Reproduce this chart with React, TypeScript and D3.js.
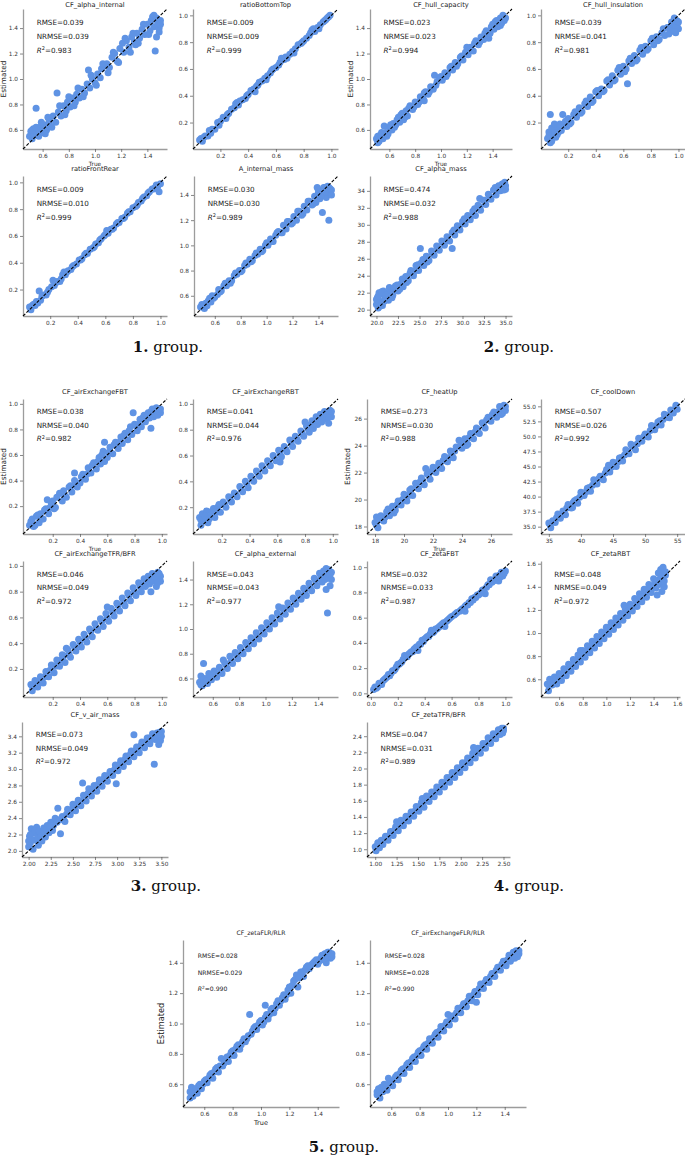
import React, { useEffect, useRef } from 'react';
import * as d3 from 'd3';

// panel titles and their scores
const titles = [
  'CF_alpha_internal', 'ratioBottomTop', 'CF_hull_capacity', 'CF_hull_insulation',
  'ratioFrontRear', 'A_internal_mass', 'CF_alpha_mass',
  'CF_airExchangeFBT', 'CF_airExchangeRBT', 'CF_heatUp', 'CF_coolDown',
  'CF_airExchangeTFR/BFR', 'CF_alpha_external', 'CF_zetaFBT', 'CF_zetaRBT',
  'CF_v_air_mass', 'CF_zetaTFR/BFR',
  'CF_zetaFLR/RLR', 'CF_airExchangeFLR/RLR',
];
const rmse = [0.039, 0.009, 0.023, 0.039, 0.009, 0.030, 0.474, 0.038, 0.041, 0.273, 0.507, 0.046, 0.043, 0.032, 0.048, 0.073, 0.047, 0.028, 0.028];
const nrmse = [0.039, 0.009, 0.023, 0.041, 0.010, 0.030, 0.032, 0.040, 0.044, 0.030, 0.026, 0.049, 0.043, 0.033, 0.049, 0.049, 0.031, 0.029, 0.028];
const r2 = [0.983, 0.999, 0.994, 0.981, 0.999, 0.989, 0.988, 0.982, 0.976, 0.988, 0.992, 0.972, 0.977, 0.987, 0.972, 0.972, 0.989, 0.990, 0.990];

// tick values
const t06 = [0.6, 0.8, 1.0, 1.2, 1.4];
const t02 = [0.2, 0.4, 0.6, 0.8, 1.0];
const t00 = [0.0, 0.2, 0.4, 0.6, 0.8, 1.0];
const t16 = [0.6, 0.8, 1.0, 1.2, 1.4, 1.6];
const massX = [20, 22.5, 25, 27.5, 30, 32.5, 35];
const massY = [20, 22, 24, 26, 28, 30, 32, 34];
const heatTicks = [18, 20, 22, 24, 26];
const coolX = [35, 40, 45, 50, 55];
const coolY = [35, 37.5, 40, 42.5, 45, 47.5, 50, 52.5, 55];
const airX = [2.0, 2.25, 2.5, 2.75, 3.0, 3.25, 3.5];
const airY = [2.0, 2.2, 2.4, 2.6, 2.8, 3.0, 3.2, 3.4];
const zetaX = [1.0, 1.25, 1.5, 1.75, 2.0, 2.25, 2.5];
const zetaY = [1.0, 1.2, 1.4, 1.6, 1.8, 2.0, 2.2, 2.4];

// [true, estimated]
const alphaInternal = [[0.50,0.55],[0.51,0.59],[0.52,0.53],[0.53,0.61],[0.54,0.57],[0.55,0.77],[0.56,0.60],[0.57,0.55],[0.58,0.62],[0.60,0.58],[0.61,0.64],[0.63,0.60],[0.65,0.67],[0.66,0.63],[0.68,0.71],[0.70,0.66],[0.71,0.89],[0.72,0.74],[0.74,0.71],[0.76,0.79],[0.78,0.75],[0.79,0.82],[0.81,0.78],[0.83,0.85],[0.85,0.82],[0.86,0.88],[0.88,0.85],[0.90,0.92],[0.92,0.89],[0.94,0.96],[0.95,1.07],[0.96,0.93],[0.98,1.00],[1.00,0.97],[1.02,1.04],[1.04,1.01],[1.05,1.08],[1.07,1.10],[1.09,1.12],[1.11,1.09],[1.13,1.17],[1.15,1.20],[1.17,1.14],[1.19,1.24],[1.21,1.28],[1.22,1.21],[1.24,1.30],[1.26,1.25],[1.28,1.33],[1.30,1.29],[1.32,1.36],[1.34,1.32],[1.36,1.39],[1.38,1.35],[1.40,1.43],[1.42,1.38],[1.43,1.46],[1.45,1.41],[1.46,1.22],[1.47,1.48],[1.48,1.44],[1.49,1.37],[1.50,1.46],[1.44,1.49],[1.31,1.27],[0.53,0.56],[0.57,0.59],[1.48,1.42],
  [0.52,0.60],[0.55,0.62],[0.59,0.66],[0.62,0.57],[0.64,0.70],[0.67,0.62],[0.73,0.79],[0.77,0.72],[0.80,0.86],[0.84,0.79],[0.87,0.93],[0.91,0.86],[0.97,1.03],[1.01,0.95],[1.06,1.12],[1.10,1.05],[1.14,1.21],[1.18,1.13],[1.23,1.32],[1.27,1.21],[1.29,1.36],[1.33,1.28],[1.37,1.43],[1.41,1.35],[1.45,1.50],[1.49,1.40],[1.47,1.33],[1.50,1.43]];
const ratioBottomTop = [[0.05,0.07],[0.06,0.08],[0.07,0.06],[0.09,0.10],[0.11,0.10],[0.12,0.14],[0.14,0.15],[0.16,0.15],[0.18,0.20],[0.20,0.21],[0.22,0.24],[0.24,0.23],[0.26,0.27],[0.28,0.30],[0.30,0.31],[0.32,0.35],[0.34,0.36],[0.36,0.37],[0.38,0.38],[0.40,0.41],[0.42,0.44],[0.44,0.45],[0.46,0.47],[0.48,0.50],[0.50,0.51],[0.52,0.53],[0.54,0.55],[0.56,0.57],[0.58,0.60],[0.60,0.61],[0.62,0.63],[0.64,0.68],[0.66,0.67],[0.68,0.68],[0.70,0.71],[0.72,0.73],[0.74,0.75],[0.76,0.78],[0.78,0.79],[0.80,0.81],[0.82,0.83],[0.84,0.85],[0.86,0.89],[0.88,0.88],[0.90,0.91],[0.92,0.93],[0.94,0.95],[0.96,0.97],[0.98,0.99],[0.99,1.00],[0.97,0.98],[0.31,0.34],[0.45,0.43],[0.87,0.90],
  [0.08,0.09],[0.13,0.12],[0.19,0.18],[0.25,0.26],[0.33,0.33],[0.39,0.40],[0.47,0.48],[0.53,0.52],[0.57,0.59],[0.63,0.65],[0.67,0.69],[0.73,0.72],[0.79,0.80],[0.85,0.87],[0.91,0.90],[0.95,0.96]];
const hullCapacity = [[0.50,0.53],[0.51,0.55],[0.52,0.51],[0.53,0.56],[0.55,0.53],[0.56,0.63],[0.57,0.58],[0.58,0.55],[0.60,0.62],[0.62,0.60],[0.63,0.65],[0.65,0.64],[0.67,0.70],[0.68,0.66],[0.70,0.73],[0.71,0.68],[0.73,0.75],[0.74,0.71],[0.76,0.79],[0.78,0.76],[0.80,0.82],[0.82,0.80],[0.84,0.86],[0.86,0.85],[0.88,0.90],[0.90,0.88],[0.92,0.94],[0.94,0.92],[0.95,1.03],[0.97,0.98],[0.99,1.01],[1.01,0.99],[1.03,1.05],[1.05,1.04],[1.07,1.09],[1.09,1.07],[1.11,1.13],[1.13,1.12],[1.15,1.17],[1.17,1.15],[1.19,1.21],[1.21,1.19],[1.23,1.25],[1.25,1.22],[1.27,1.30],[1.29,1.27],[1.31,1.33],[1.33,1.31],[1.35,1.38],[1.37,1.32],[1.39,1.41],[1.41,1.39],[1.43,1.46],[1.44,1.41],[1.46,1.48],[1.47,1.44],[1.48,1.50],[1.49,1.46],[1.50,1.48],[1.42,1.45],[0.87,0.83],[1.20,1.25],
  [0.51,0.50],[0.54,0.58],[0.59,0.57],[0.61,0.64],[0.64,0.62],[0.66,0.68],[0.69,0.72],[0.72,0.70],[0.75,0.77],[0.79,0.78],[0.83,0.82],[0.87,0.89],[0.91,0.90],[0.96,0.95],[1.00,1.02],[1.04,1.02],[1.08,1.10],[1.12,1.10],[1.16,1.18],[1.22,1.23],[1.26,1.28],[1.30,1.29],[1.34,1.36],[1.38,1.36],[1.40,1.43],[1.45,1.44],[1.48,1.46],[1.46,1.42]];
const hullInsulation = [[0.05,0.08],[0.06,0.13],[0.07,0.26],[0.07,0.05],[0.08,0.16],[0.09,0.11],[0.10,0.15],[0.11,0.09],[0.12,0.17],[0.13,0.13],[0.15,0.14],[0.16,0.26],[0.17,0.19],[0.19,0.17],[0.20,0.23],[0.22,0.20],[0.24,0.26],[0.26,0.24],[0.28,0.31],[0.30,0.28],[0.32,0.34],[0.34,0.32],[0.36,0.39],[0.38,0.36],[0.40,0.43],[0.42,0.40],[0.44,0.45],[0.46,0.44],[0.48,0.51],[0.50,0.48],[0.52,0.55],[0.54,0.52],[0.56,0.59],[0.58,0.56],[0.60,0.62],[0.62,0.60],[0.63,0.49],[0.64,0.66],[0.66,0.64],[0.68,0.70],[0.70,0.67],[0.72,0.74],[0.74,0.71],[0.76,0.77],[0.78,0.75],[0.80,0.81],[0.82,0.78],[0.84,0.84],[0.86,0.82],[0.88,0.87],[0.90,0.85],[0.92,0.91],[0.94,0.88],[0.95,0.95],[0.96,0.90],[0.97,0.98],[0.98,0.87],[0.99,0.93],[1.00,0.90],[0.99,0.96],
  [0.06,0.10],[0.08,0.06],[0.10,0.19],[0.12,0.11],[0.14,0.19],[0.18,0.21],[0.21,0.19],[0.25,0.28],[0.29,0.27],[0.33,0.36],[0.37,0.35],[0.41,0.44],[0.45,0.43],[0.49,0.52],[0.53,0.51],[0.57,0.61],[0.61,0.58],[0.65,0.68],[0.69,0.66],[0.73,0.76],[0.77,0.74],[0.81,0.83],[0.85,0.81],[0.89,0.90],[0.93,0.86],[0.96,0.93],[0.98,0.91],[1.00,0.95],[0.97,0.88]];
const ratioFrontRear = [[0.05,0.07],[0.06,0.05],[0.07,0.08],[0.09,0.08],[0.10,0.11],[0.12,0.19],[0.13,0.12],[0.15,0.16],[0.17,0.16],[0.19,0.20],[0.21,0.22],[0.22,0.27],[0.23,0.23],[0.25,0.26],[0.27,0.26],[0.29,0.31],[0.30,0.33],[0.31,0.31],[0.33,0.34],[0.35,0.35],[0.37,0.38],[0.39,0.39],[0.41,0.42],[0.43,0.43],[0.45,0.46],[0.47,0.47],[0.49,0.50],[0.51,0.51],[0.53,0.54],[0.55,0.55],[0.57,0.58],[0.59,0.60],[0.61,0.64],[0.62,0.62],[0.64,0.65],[0.66,0.66],[0.68,0.69],[0.70,0.70],[0.72,0.73],[0.74,0.74],[0.76,0.77],[0.78,0.78],[0.80,0.81],[0.82,0.82],[0.84,0.85],[0.86,0.86],[0.88,0.89],[0.90,0.90],[0.92,0.93],[0.94,0.95],[0.96,0.96],[0.97,0.98],[0.99,0.93],[1.00,0.99],[0.98,0.97],
  [0.08,0.09],[0.11,0.10],[0.14,0.15],[0.18,0.18],[0.24,0.25],[0.28,0.28],[0.32,0.33],[0.36,0.37],[0.42,0.42],[0.46,0.47],[0.52,0.52],[0.56,0.57],[0.60,0.61],[0.65,0.65],[0.69,0.70],[0.73,0.73],[0.77,0.78],[0.83,0.83],[0.87,0.88],[0.91,0.92],[0.95,0.95]];
const aInternalMass = [[0.49,0.51],[0.50,0.53],[0.52,0.50],[0.53,0.54],[0.55,0.56],[0.57,0.55],[0.58,0.60],[0.60,0.59],[0.62,0.61],[0.63,0.65],[0.65,0.64],[0.67,0.68],[0.69,0.68],[0.71,0.72],[0.73,0.72],[0.75,0.76],[0.77,0.77],[0.79,0.80],[0.81,0.80],[0.83,0.84],[0.85,0.85],[0.87,0.89],[0.89,0.88],[0.91,0.92],[0.93,0.93],[0.95,0.97],[0.97,0.96],[0.99,1.00],[1.01,1.00],[1.03,1.05],[1.05,1.03],[1.07,1.08],[1.09,1.11],[1.11,1.10],[1.13,1.16],[1.15,1.13],[1.17,1.19],[1.19,1.17],[1.21,1.23],[1.23,1.20],[1.25,1.27],[1.27,1.24],[1.29,1.31],[1.31,1.28],[1.33,1.35],[1.35,1.32],[1.37,1.39],[1.38,1.34],[1.40,1.42],[1.41,1.37],[1.43,1.26],[1.43,1.44],[1.44,1.40],[1.45,1.46],[1.46,1.38],[1.47,1.43],[1.48,1.20],[1.48,1.46],[1.49,1.41],[1.50,1.44],[1.39,1.46],
  [0.51,0.52],[0.54,0.52],[0.56,0.58],[0.59,0.58],[0.64,0.63],[0.68,0.70],[0.72,0.70],[0.76,0.78],[0.80,0.79],[0.84,0.86],[0.88,0.87],[0.92,0.94],[0.96,0.95],[1.00,1.02],[1.04,1.03],[1.08,1.10],[1.12,1.10],[1.16,1.19],[1.20,1.18],[1.24,1.27],[1.28,1.25],[1.32,1.35],[1.36,1.33],[1.40,1.44],[1.42,1.40],[1.44,1.46],[1.46,1.42],[1.47,1.47],[1.49,1.45],[1.50,1.40]];
const alphaMass = [[20.0,20.6],[20.1,21.4],[20.2,20.2],[20.3,22.0],[20.4,21.0],[20.5,21.8],[20.7,20.5],[20.8,22.2],[21.0,21.3],[21.2,22.0],[21.4,21.1],[21.6,22.3],[21.9,21.7],[22.2,22.8],[22.5,22.2],[22.8,23.0],[23.1,22.7],[23.4,23.9],[23.7,23.4],[24.0,24.6],[24.3,24.0],[24.6,25.2],[24.9,24.6],[25.1,27.2],[25.2,25.5],[25.5,25.2],[25.8,26.3],[26.1,25.8],[26.4,26.9],[26.7,26.4],[27.0,27.5],[27.3,27.0],[27.6,28.1],[27.9,27.6],[28.2,28.6],[28.5,28.1],[28.8,27.2],[28.8,29.1],[29.1,28.8],[29.4,29.9],[29.7,29.4],[30.0,30.4],[30.3,30.1],[30.6,31.1],[30.9,30.6],[31.2,31.6],[31.5,31.1],[31.8,32.3],[32.1,31.7],[32.4,32.9],[32.7,32.4],[33.0,33.6],[33.3,33.0],[33.6,34.1],[33.9,33.5],[34.2,34.6],[34.4,34.0],[34.6,34.8],[34.8,34.1],[35.0,34.6],[34.9,35.0],[32.0,33.1],
  [20.0,21.2],[20.2,21.6],[20.4,20.4],[20.6,22.1],[20.9,21.0],[21.1,21.7],[21.5,22.6],[21.8,21.4],[22.0,22.5],[22.4,22.9],[22.7,22.4],[23.0,23.6],[23.5,23.2],[23.9,24.3],[24.4,24.5],[24.8,25.3],[25.4,25.9],[25.9,25.6],[26.5,26.6],[27.1,27.3],[27.7,27.9],[28.3,28.3],[29.0,29.4],[29.6,29.8],[30.2,30.7],[30.8,31.0],[31.4,31.9],[32.0,32.1],[32.6,32.9],[33.2,33.3],[33.8,34.4],[34.3,34.3],[34.7,34.6],[35.0,34.2]];
const airExchangeFBT = [[0.03,0.05],[0.05,0.10],[0.06,0.04],[0.08,0.12],[0.10,0.07],[0.11,0.14],[0.13,0.10],[0.15,0.18],[0.17,0.14],[0.19,0.22],[0.21,0.18],[0.23,0.27],[0.25,0.30],[0.27,0.24],[0.28,0.32],[0.30,0.27],[0.32,0.35],[0.34,0.31],[0.36,0.40],[0.38,0.35],[0.40,0.38],[0.42,0.45],[0.44,0.41],[0.46,0.50],[0.48,0.46],[0.50,0.54],[0.52,0.49],[0.54,0.58],[0.55,0.53],[0.57,0.63],[0.58,0.55],[0.60,0.58],[0.62,0.66],[0.64,0.61],[0.66,0.70],[0.68,0.65],[0.70,0.74],[0.71,0.69],[0.73,0.77],[0.75,0.72],[0.77,0.82],[0.78,0.76],[0.80,0.84],[0.82,0.79],[0.84,0.88],[0.85,0.82],[0.87,0.91],[0.88,0.86],[0.90,0.93],[0.91,0.89],[0.92,0.81],[0.93,0.96],[0.94,0.90],[0.95,0.94],[0.96,0.97],[0.97,0.91],[0.98,0.95],[0.99,0.93],[0.79,0.93],[0.58,0.70],[0.36,0.46],[0.16,0.25],
  [0.04,0.08],[0.07,0.05],[0.09,0.13],[0.12,0.10],[0.14,0.17],[0.18,0.19],[0.20,0.24],[0.22,0.19],[0.26,0.30],[0.29,0.28],[0.33,0.36],[0.37,0.36],[0.41,0.43],[0.45,0.45],[0.49,0.52],[0.53,0.55],[0.56,0.60],[0.61,0.62],[0.65,0.68],[0.69,0.70],[0.72,0.75],[0.76,0.79],[0.81,0.83],[0.83,0.84],[0.86,0.89],[0.89,0.90],[0.92,0.94],[0.95,0.96],[0.97,0.94],[0.99,0.96]];
const airExchangeRBT = [[0.04,0.12],[0.05,0.06],[0.06,0.15],[0.07,0.10],[0.09,0.17],[0.10,0.08],[0.12,0.13],[0.14,0.19],[0.15,0.12],[0.17,0.20],[0.19,0.16],[0.21,0.24],[0.23,0.20],[0.25,0.28],[0.27,0.24],[0.29,0.31],[0.31,0.28],[0.33,0.36],[0.35,0.32],[0.37,0.40],[0.39,0.35],[0.41,0.44],[0.43,0.40],[0.45,0.48],[0.47,0.44],[0.49,0.52],[0.51,0.48],[0.53,0.56],[0.55,0.52],[0.57,0.60],[0.59,0.56],[0.61,0.64],[0.63,0.59],[0.65,0.67],[0.67,0.63],[0.69,0.72],[0.71,0.67],[0.73,0.75],[0.75,0.71],[0.77,0.79],[0.79,0.75],[0.81,0.83],[0.83,0.78],[0.85,0.87],[0.86,0.81],[0.88,0.90],[0.89,0.84],[0.91,0.92],[0.92,0.86],[0.94,0.94],[0.95,0.88],[0.96,0.93],[0.97,0.85],[0.98,0.95],[0.99,0.90],[0.62,0.55],[0.80,0.86],
  [0.05,0.10],[0.08,0.13],[0.11,0.11],[0.13,0.17],[0.16,0.16],[0.18,0.22],[0.22,0.22],[0.26,0.26],[0.30,0.30],[0.34,0.34],[0.38,0.38],[0.42,0.42],[0.46,0.46],[0.50,0.50],[0.54,0.54],[0.58,0.58],[0.62,0.62],[0.66,0.65],[0.70,0.70],[0.74,0.73],[0.78,0.77],[0.82,0.81],[0.84,0.84],[0.87,0.86],[0.90,0.88],[0.93,0.90],[0.95,0.92],[0.97,0.90],[0.99,0.94]];
const heatUp = [[18.0,18.3],[18.1,18.7],[18.2,17.9],[18.4,18.8],[18.6,18.4],[18.8,19.1],[19.0,18.8],[19.2,19.5],[19.4,19.2],[19.6,19.9],[19.8,19.6],[20.0,20.4],[20.2,19.9],[20.4,20.7],[20.6,20.3],[20.8,21.2],[21.0,20.8],[21.2,21.6],[21.4,21.1],[21.6,21.9],[21.8,21.5],[22.0,22.4],[22.2,22.0],[22.4,22.7],[22.6,22.3],[22.8,23.2],[23.0,22.8],[23.2,23.6],[23.4,23.1],[23.6,23.9],[23.8,24.4],[24.0,23.8],[24.2,24.5],[24.4,24.1],[24.6,24.9],[24.8,24.5],[25.0,25.3],[25.2,24.9],[25.4,25.7],[25.6,25.3],[25.8,26.1],[26.0,25.8],[26.2,26.5],[26.4,26.1],[26.6,26.9],[26.8,26.4],[26.9,27.0],[27.0,26.6],[26.7,26.3],[21.5,22.3],[24.3,24.0],[19.3,19.0],
  [18.1,18.1],[18.3,18.5],[18.5,18.7],[18.7,18.7],[18.9,19.3],[19.1,19.1],[19.5,19.6],[19.9,20.0],[20.3,20.3],[20.5,20.8],[20.9,20.9],[21.1,21.3],[21.3,21.4],[21.7,21.8],[21.9,22.1],[22.3,22.4],[22.5,22.5],[22.7,22.9],[23.1,23.1],[23.3,23.4],[23.5,23.6],[23.9,24.0],[24.1,24.3],[24.5,24.6],[24.9,25.0],[25.1,25.2],[25.5,25.5],[25.7,25.9],[26.1,26.3],[26.3,26.4],[26.5,26.5],[26.8,26.8],[27.0,26.9]];
const coolDown = [[35.0,35.6],[35.3,34.8],[35.6,36.0],[36.0,35.7],[36.4,37.1],[36.8,36.4],[37.2,37.6],[37.6,37.0],[38.0,38.7],[38.5,38.1],[39.0,39.3],[39.5,38.9],[40.0,40.7],[40.5,40.2],[41.0,41.4],[41.5,40.9],[42.0,42.8],[42.5,42.1],[43.0,43.4],[43.5,42.8],[44.0,44.5],[44.5,44.1],[45.0,45.7],[45.5,45.0],[46.0,46.4],[46.5,45.9],[47.0,47.8],[47.5,47.1],[48.0,48.3],[48.5,47.8],[49.0,49.7],[49.5,49.2],[50.0,50.4],[50.5,49.9],[51.0,51.8],[51.5,51.1],[52.0,52.4],[52.5,51.9],[53.0,53.7],[53.5,53.2],[54.0,54.4],[54.4,53.9],[54.8,55.2],[55.0,54.5],[53.8,53.1],[44.3,45.2],[38.7,38.2],[47.8,48.7],
  [35.2,35.3],[35.8,35.8],[36.2,36.5],[36.6,36.8],[37.4,37.4],[37.8,38.1],[38.3,38.3],[38.8,39.0],[39.3,39.5],[39.8,39.9],[40.3,40.5],[40.8,40.8],[41.3,41.5],[41.8,41.9],[42.3,42.4],[42.8,43.0],[43.3,43.4],[43.8,43.9],[44.8,44.9],[45.3,45.5],[45.8,45.8],[46.3,46.5],[46.8,46.9],[47.3,47.4],[48.3,48.4],[48.8,48.8],[49.3,49.5],[49.8,50.0],[50.3,50.3],[50.8,51.0],[51.3,51.4],[51.8,51.8],[52.3,52.6],[52.8,52.8],[53.3,53.5],[54.2,54.3],[54.7,54.6]];
const airExchangeTfr = [[0.04,0.08],[0.05,0.03],[0.07,0.11],[0.09,0.06],[0.11,0.14],[0.13,0.09],[0.15,0.18],[0.17,0.14],[0.19,0.23],[0.21,0.17],[0.23,0.27],[0.25,0.22],[0.27,0.31],[0.29,0.25],[0.31,0.35],[0.33,0.29],[0.35,0.39],[0.37,0.34],[0.39,0.43],[0.41,0.37],[0.43,0.47],[0.45,0.41],[0.47,0.51],[0.49,0.45],[0.51,0.55],[0.53,0.50],[0.55,0.59],[0.57,0.53],[0.59,0.63],[0.61,0.57],[0.63,0.67],[0.65,0.61],[0.67,0.71],[0.69,0.65],[0.71,0.75],[0.73,0.69],[0.75,0.79],[0.77,0.73],[0.79,0.83],[0.81,0.77],[0.83,0.87],[0.85,0.80],[0.87,0.90],[0.88,0.84],[0.90,0.92],[0.91,0.86],[0.93,0.94],[0.94,0.88],[0.95,0.93],[0.96,0.84],[0.97,0.95],[0.98,0.89],[0.99,0.92],[0.92,0.80],[0.60,0.68],[0.30,0.36],
  [0.05,0.07],[0.08,0.10],[0.10,0.09],[0.14,0.14],[0.18,0.19],[0.22,0.22],[0.26,0.27],[0.28,0.30],[0.32,0.32],[0.36,0.37],[0.40,0.41],[0.44,0.44],[0.48,0.49],[0.52,0.52],[0.56,0.57],[0.60,0.60],[0.64,0.64],[0.68,0.69],[0.72,0.72],[0.76,0.77],[0.80,0.80],[0.84,0.84],[0.86,0.85],[0.89,0.88],[0.92,0.90],[0.94,0.92],[0.96,0.90],[0.98,0.94],[0.99,0.88],[0.97,0.87]];
const alphaExternal = [[0.50,0.57],[0.51,0.62],[0.52,0.54],[0.53,0.72],[0.54,0.60],[0.56,0.56],[0.57,0.64],[0.59,0.59],[0.61,0.66],[0.63,0.61],[0.65,0.69],[0.67,0.64],[0.69,0.73],[0.71,0.68],[0.73,0.78],[0.75,0.72],[0.77,0.81],[0.79,0.76],[0.81,0.85],[0.83,0.80],[0.85,0.89],[0.87,0.84],[0.89,0.93],[0.91,0.88],[0.93,0.97],[0.95,0.92],[0.97,1.01],[0.99,0.96],[1.01,1.05],[1.03,1.00],[1.05,1.09],[1.07,1.04],[1.09,1.13],[1.11,1.08],[1.13,1.17],[1.15,1.12],[1.17,1.21],[1.19,1.16],[1.21,1.25],[1.23,1.20],[1.25,1.29],[1.27,1.24],[1.29,1.33],[1.31,1.27],[1.33,1.37],[1.35,1.31],[1.37,1.41],[1.39,1.35],[1.41,1.45],[1.43,1.38],[1.44,1.47],[1.45,1.40],[1.46,1.49],[1.47,1.13],[1.48,1.43],[1.49,1.35],[1.50,1.46],[1.46,1.32],[0.68,0.75],[1.10,1.18],
  [0.51,0.55],[0.53,0.59],[0.55,0.58],[0.58,0.62],[0.62,0.64],[0.66,0.66],[0.70,0.71],[0.74,0.75],[0.78,0.79],[0.82,0.82],[0.86,0.87],[0.90,0.91],[0.94,0.94],[0.98,0.99],[1.02,1.03],[1.06,1.06],[1.10,1.11],[1.14,1.15],[1.18,1.18],[1.22,1.23],[1.26,1.26],[1.30,1.31],[1.34,1.34],[1.38,1.39],[1.42,1.42],[1.45,1.45],[1.47,1.41],[1.48,1.48],[1.50,1.40],[1.49,1.44]];
const zetaFBT = [[0.02,0.03],[0.03,0.05],[0.05,0.05],[0.06,0.08],[0.08,0.07],[0.10,0.11],[0.12,0.13],[0.14,0.14],[0.16,0.18],[0.18,0.19],[0.20,0.23],[0.22,0.24],[0.24,0.27],[0.26,0.29],[0.28,0.31],[0.30,0.33],[0.32,0.35],[0.34,0.37],[0.36,0.39],[0.38,0.42],[0.40,0.43],[0.42,0.45],[0.44,0.47],[0.46,0.48],[0.48,0.51],[0.50,0.52],[0.52,0.54],[0.54,0.56],[0.56,0.57],[0.58,0.59],[0.60,0.61],[0.62,0.62],[0.64,0.64],[0.66,0.65],[0.68,0.67],[0.70,0.69],[0.72,0.70],[0.74,0.72],[0.76,0.74],[0.78,0.76],[0.80,0.78],[0.82,0.80],[0.84,0.82],[0.86,0.84],[0.88,0.86],[0.90,0.88],[0.92,0.90],[0.94,0.92],[0.96,0.94],[0.97,0.96],[0.98,0.93],[1.00,0.97],[0.95,0.89],[0.85,0.79],[0.70,0.65],[0.45,0.50],[0.25,0.30],[0.15,0.16],[0.35,0.34],[0.55,0.53],[0.75,0.75],[0.89,0.90],
  [0.04,0.04],[0.07,0.07],[0.09,0.10],[0.11,0.12],[0.13,0.15],[0.17,0.18],[0.19,0.21],[0.21,0.23],[0.23,0.25],[0.27,0.29],[0.29,0.32],[0.31,0.33],[0.33,0.36],[0.37,0.39],[0.39,0.41],[0.41,0.44],[0.43,0.45],[0.47,0.49],[0.49,0.51],[0.51,0.53],[0.53,0.55],[0.57,0.58],[0.59,0.60],[0.63,0.63],[0.67,0.66],[0.71,0.70],[0.73,0.72],[0.77,0.76],[0.79,0.78],[0.81,0.79],[0.83,0.82],[0.87,0.86],[0.91,0.89],[0.93,0.93],[0.96,0.92],[0.99,0.95]];
const zetaRBT = [[0.50,0.56],[0.51,0.50],[0.52,0.60],[0.54,0.55],[0.56,0.62],[0.58,0.56],[0.60,0.65],[0.62,0.59],[0.64,0.69],[0.66,0.63],[0.68,0.73],[0.70,0.67],[0.72,0.77],[0.74,0.71],[0.76,0.81],[0.78,0.75],[0.80,0.85],[0.82,0.79],[0.84,0.89],[0.86,0.83],[0.88,0.93],[0.90,0.87],[0.92,0.97],[0.94,0.91],[0.96,1.01],[0.98,0.95],[1.00,1.05],[1.02,0.99],[1.04,1.09],[1.06,1.03],[1.08,1.13],[1.10,1.07],[1.12,1.17],[1.14,1.11],[1.16,1.21],[1.18,1.15],[1.20,1.25],[1.22,1.19],[1.24,1.30],[1.26,1.23],[1.28,1.34],[1.30,1.27],[1.32,1.38],[1.34,1.31],[1.36,1.42],[1.38,1.35],[1.40,1.47],[1.42,1.39],[1.44,1.52],[1.45,1.42],[1.46,1.55],[1.47,1.45],[1.48,1.57],[1.49,1.40],[1.50,1.50],[1.43,1.33],[1.47,1.36],[0.78,0.85],[1.15,1.24],
  [0.51,0.55],[0.53,0.57],[0.55,0.58],[0.57,0.60],[0.61,0.62],[0.65,0.66],[0.69,0.70],[0.73,0.74],[0.77,0.78],[0.81,0.82],[0.85,0.86],[0.89,0.90],[0.93,0.94],[0.97,0.98],[1.01,1.02],[1.05,1.06],[1.09,1.10],[1.13,1.14],[1.17,1.18],[1.21,1.22],[1.25,1.27],[1.29,1.31],[1.33,1.35],[1.37,1.39],[1.41,1.43],[1.44,1.46],[1.46,1.48],[1.48,1.51],[1.49,1.45],[1.50,1.53]];
const vAirMass = [[2.00,2.05],[2.01,2.18],[2.02,2.10],[2.03,2.27],[2.05,2.02],[2.06,2.22],[2.08,2.13],[2.09,2.29],[2.11,2.07],[2.13,2.20],[2.15,2.12],[2.17,2.28],[2.19,2.17],[2.21,2.31],[2.23,2.22],[2.25,2.35],[2.27,2.25],[2.30,2.40],[2.33,2.52],[2.36,2.21],[2.38,2.42],[2.41,2.36],[2.44,2.51],[2.47,2.44],[2.50,2.57],[2.53,2.49],[2.56,2.62],[2.61,2.83],[2.59,2.55],[2.62,2.68],[2.65,2.61],[2.68,2.76],[2.71,2.67],[2.74,2.80],[2.77,2.73],[2.80,2.87],[2.83,2.79],[2.86,2.92],[2.89,2.85],[2.92,2.97],[2.95,2.92],[2.99,2.82],[2.98,3.05],[3.01,2.98],[3.04,3.10],[3.07,3.03],[3.10,3.16],[3.13,3.09],[3.16,3.22],[3.19,3.42],[3.19,3.15],[3.22,3.27],[3.25,3.20],[3.28,3.33],[3.31,3.26],[3.34,3.38],[3.37,3.31],[3.40,3.43],[3.42,3.06],[3.43,3.36],[3.45,3.44],[3.47,3.30],[3.48,3.41],[3.50,3.46],[3.49,3.35],
  [2.00,2.12],[2.02,2.20],[2.04,2.14],[2.07,2.25],[2.10,2.16],[2.12,2.24],[2.14,2.18],[2.18,2.23],[2.20,2.26],[2.24,2.29],[2.28,2.31],[2.32,2.35],[2.35,2.38],[2.39,2.40],[2.43,2.45],[2.46,2.49],[2.49,2.51],[2.52,2.55],[2.55,2.57],[2.58,2.61],[2.63,2.64],[2.67,2.70],[2.70,2.72],[2.73,2.76],[2.76,2.79],[2.79,2.82],[2.82,2.84],[2.85,2.88],[2.88,2.91],[2.91,2.93],[2.94,2.97],[2.97,2.99],[3.00,3.03],[3.03,3.06],[3.06,3.08],[3.09,3.12],[3.12,3.15],[3.15,3.18],[3.18,3.20],[3.21,3.23],[3.24,3.26],[3.27,3.29],[3.30,3.31],[3.33,3.34],[3.36,3.38],[3.39,3.37],[3.41,3.40],[3.44,3.40],[3.46,3.42],[3.48,3.45],[3.50,3.40]];
const zetaTfr = [[1.00,1.03],[1.01,0.98],[1.03,1.08],[1.05,1.02],[1.07,1.11],[1.09,1.06],[1.12,1.16],[1.15,1.11],[1.18,1.22],[1.21,1.17],[1.24,1.28],[1.27,1.23],[1.30,1.36],[1.33,1.29],[1.36,1.41],[1.39,1.35],[1.42,1.46],[1.45,1.41],[1.48,1.53],[1.51,1.47],[1.54,1.58],[1.57,1.52],[1.60,1.66],[1.63,1.59],[1.66,1.71],[1.69,1.65],[1.72,1.77],[1.75,1.71],[1.78,1.83],[1.81,1.77],[1.84,1.89],[1.87,1.83],[1.90,1.95],[1.93,1.89],[1.96,2.01],[1.99,1.95],[2.02,2.07],[2.05,2.01],[2.08,2.13],[2.11,2.07],[2.14,2.19],[2.17,2.13],[2.20,2.25],[2.23,2.19],[2.26,2.31],[2.29,2.25],[2.32,2.38],[2.35,2.31],[2.38,2.43],[2.41,2.37],[2.44,2.48],[2.46,2.42],[2.48,2.50],[2.49,2.44],[2.50,2.47],[1.55,1.63],[2.15,2.26],[1.25,1.34],
  [1.02,1.04],[1.04,1.05],[1.06,1.08],[1.08,1.09],[1.11,1.12],[1.14,1.15],[1.17,1.18],[1.20,1.21],[1.23,1.24],[1.26,1.27],[1.29,1.31],[1.32,1.33],[1.35,1.36],[1.38,1.39],[1.41,1.42],[1.44,1.45],[1.47,1.48],[1.50,1.51],[1.53,1.54],[1.56,1.57],[1.59,1.61],[1.62,1.63],[1.65,1.66],[1.68,1.69],[1.71,1.72],[1.74,1.75],[1.77,1.78],[1.80,1.81],[1.83,1.84],[1.86,1.87],[1.89,1.90],[1.92,1.93],[1.95,1.96],[1.98,1.99],[2.01,2.02],[2.04,2.05],[2.07,2.08],[2.10,2.11],[2.13,2.14],[2.16,2.17],[2.19,2.20],[2.22,2.23],[2.25,2.26],[2.28,2.29],[2.31,2.32],[2.34,2.35],[2.37,2.38],[2.40,2.41],[2.43,2.44],[2.45,2.46],[2.47,2.45],[2.50,2.50]];
const zetaFlr = [[0.50,0.55],[0.51,0.58],[0.52,0.52],[0.53,0.56],[0.55,0.54],[0.56,0.59],[0.58,0.57],[0.60,0.62],[0.62,0.61],[0.64,0.66],[0.66,0.64],[0.68,0.70],[0.70,0.68],[0.72,0.77],[0.73,0.72],[0.75,0.76],[0.77,0.75],[0.79,0.81],[0.81,0.79],[0.83,0.85],[0.85,0.83],[0.87,0.88],[0.89,0.88],[0.91,0.92],[0.92,1.06],[0.93,0.93],[0.95,0.97],[0.97,0.96],[0.99,1.01],[1.01,0.99],[1.03,1.12],[1.03,1.04],[1.05,1.03],[1.07,1.09],[1.09,1.07],[1.11,1.13],[1.13,1.12],[1.15,1.17],[1.17,1.16],[1.19,1.22],[1.21,1.20],[1.23,1.28],[1.25,1.32],[1.26,1.24],[1.28,1.34],[1.30,1.31],[1.32,1.37],[1.34,1.36],[1.36,1.39],[1.38,1.41],[1.40,1.39],[1.42,1.43],[1.44,1.42],[1.45,1.46],[1.47,1.44],[1.48,1.47],[1.49,1.43],[1.50,1.46],[1.46,1.40],
  [0.50,0.51],[0.52,0.57],[0.54,0.57],[0.57,0.60],[0.59,0.60],[0.61,0.63],[0.63,0.64],[0.65,0.67],[0.67,0.68],[0.69,0.71],[0.71,0.72],[0.74,0.74],[0.76,0.78],[0.78,0.79],[0.80,0.82],[0.82,0.83],[0.84,0.86],[0.86,0.86],[0.88,0.90],[0.90,0.90],[0.94,0.95],[0.96,0.98],[0.98,0.99],[1.00,1.02],[1.02,1.01],[1.04,1.06],[1.06,1.06],[1.08,1.10],[1.10,1.10],[1.12,1.15],[1.14,1.15],[1.16,1.19],[1.18,1.19],[1.20,1.24],[1.22,1.25],[1.24,1.29],[1.27,1.30],[1.29,1.34],[1.31,1.35],[1.33,1.38],[1.35,1.38],[1.37,1.40],[1.39,1.42],[1.41,1.41],[1.43,1.45],[1.45,1.43],[1.47,1.47],[1.49,1.46],[1.50,1.44]];
const airExchangeFlr = [[0.50,0.53],[0.51,0.57],[0.52,0.51],[0.54,0.55],[0.55,0.60],[0.57,0.56],[0.59,0.61],[0.61,0.59],[0.63,0.65],[0.65,0.63],[0.67,0.69],[0.69,0.67],[0.71,0.73],[0.73,0.71],[0.75,0.77],[0.77,0.75],[0.79,0.81],[0.81,0.79],[0.83,0.85],[0.85,0.83],[0.87,0.90],[0.89,0.87],[0.91,0.93],[0.93,0.91],[0.95,0.98],[0.97,0.95],[0.99,1.01],[1.01,0.99],[1.03,1.05],[1.05,1.03],[1.07,1.10],[1.09,1.07],[1.11,1.13],[1.13,1.11],[1.15,1.18],[1.17,1.15],[1.19,1.21],[1.21,1.19],[1.23,1.26],[1.25,1.23],[1.27,1.29],[1.29,1.27],[1.31,1.33],[1.33,1.31],[1.35,1.37],[1.37,1.35],[1.39,1.41],[1.41,1.38],[1.43,1.45],[1.44,1.41],[1.46,1.47],[1.47,1.43],[1.48,1.48],[1.49,1.44],[1.50,1.46],[0.58,0.64],[1.00,1.06],[1.20,1.14],
  [0.50,0.55],[0.52,0.55],[0.53,0.58],[0.56,0.58],[0.58,0.60],[0.60,0.62],[0.62,0.63],[0.64,0.66],[0.66,0.67],[0.68,0.70],[0.70,0.71],[0.72,0.74],[0.74,0.75],[0.76,0.78],[0.78,0.79],[0.80,0.82],[0.82,0.83],[0.84,0.86],[0.86,0.87],[0.88,0.89],[0.90,0.91],[0.92,0.94],[0.94,0.95],[0.96,0.97],[0.98,0.99],[1.00,1.01],[1.02,1.03],[1.04,1.05],[1.06,1.07],[1.08,1.09],[1.10,1.11],[1.12,1.13],[1.14,1.15],[1.16,1.17],[1.18,1.19],[1.20,1.21],[1.22,1.23],[1.24,1.25],[1.26,1.27],[1.28,1.29],[1.30,1.31],[1.32,1.33],[1.34,1.35],[1.36,1.37],[1.38,1.39],[1.40,1.41],[1.42,1.42],[1.44,1.45],[1.46,1.45],[1.48,1.46],[1.50,1.48]];

const groupCaptions = ['1.', '2.', '3.', '4.', '5.'];

// layout of each panel: x, y, w, h (pixels) and which axis labels it carries
const panels = [
  { data: alphaInternal, xt: t06, yt: t06, xf: '.1f', yf: '.1f', x: 23, y: 9, w: 144, h: 140, top: true, lab: true },
  { data: ratioBottomTop, xt: t02, yt: t02, xf: '.1f', yf: '.1f', x: 193, y: 9, w: 145, h: 140, top: true },
  { data: hullCapacity, xt: t06, yt: t06, xf: '.1f', yf: '.1f', x: 370, y: 9, w: 142, h: 140, top: true, lab: true },
  { data: hullInsulation, xt: t02, yt: t02, xf: '.1f', yf: '.1f', x: 541, y: 9, w: 144, h: 140, top: true },
  { data: ratioFrontRear, xt: t02, yt: t02, xf: '.1f', yf: '.1f', x: 23, y: 176, w: 144, h: 140 },
  { data: aInternalMass, xt: t06, yt: t06, xf: '.1f', yf: '.1f', x: 194, y: 176, w: 144, h: 140 },
  { data: alphaMass, xt: massX, yt: massY, xf: '.1f', yf: 'd', x: 370, y: 176, w: 142, h: 140 },
  { data: airExchangeFBT, xt: t02, yt: t02, xf: '.1f', yf: '.1f', x: 23, y: 399, w: 144, h: 135, lab: true },
  { data: airExchangeRBT, xt: t02, yt: t02, xf: '.1f', yf: '.1f', x: 193, y: 399, w: 145, h: 135 },
  { data: heatUp, xt: heatTicks, yt: heatTicks, xf: 'd', yf: 'd', x: 367, y: 399, w: 145, h: 135, lab: true },
  { data: coolDown, xt: coolX, yt: coolY, xf: 'd', yf: '.1f', x: 541, y: 399, w: 144, h: 135 },
  { data: airExchangeTfr, xt: t02, yt: t02, xf: '.1f', yf: '.1f', x: 23, y: 561, w: 144, h: 136 },
  { data: alphaExternal, xt: t06, yt: t06, xf: '.1f', yf: '.1f', x: 193, y: 561, w: 145, h: 136 },
  { data: zetaFBT, xt: t00, yt: t00, xf: '.1f', yf: '.1f', x: 367, y: 561, w: 145, h: 136 },
  { data: zetaRBT, xt: t16, yt: t16, xf: '.1f', yf: '.1f', x: 541, y: 561, w: 139, h: 136 },
  { data: vAirMass, xt: airX, yt: airY, xf: '.2f', yf: '.1f', x: 22, y: 722, w: 146, h: 135 },
  { data: zetaTfr, xt: zetaX, yt: zetaY, xf: '.2f', yf: '.1f', x: 367, y: 722, w: 143, h: 135 },
  { data: zetaFlr, xt: t06, yt: t06, xf: '.1f', yf: '.1f', x: 183, y: 940, w: 156, h: 167, lab: true, g5: true },
  { data: airExchangeFlr, xt: t06, yt: t06, xf: '.1f', yf: '.1f', x: 370, y: 940, w: 156, h: 167, g5: true },
];

const captionPos = [[168, 352], [519, 352], [166, 891], [529, 891], [344, 1152]];

const App = () => {
  const ref = useRef(null);

  useEffect(() => {
    const svg = d3.select(ref.current);
    svg.selectAll('*').remove();

    panels.forEach((p, i) => {
      const vals = p.data.flat();
      const [mn, mx] = d3.extent(vals);
      const pad = (mx - mn) * 0.05;
      const dom = [mn - pad, mx + pad];
      const x = d3.scaleLinear().domain(dom).range([p.x, p.x + p.w]);
      const y = d3.scaleLinear().domain(dom).range([p.y + p.h, p.y]);
      const g = svg.append('g');

      const styleAxis = (ax) => {
        ax.attr('font-family', 'DejaVu Sans').attr('font-size', 5.8);
        ax.select('.domain').attr('stroke', '#9c9c9c').attr('stroke-width', 1.3);
        ax.selectAll('.tick line').attr('stroke', '#555').attr('stroke-width', 0.7);
        ax.selectAll('.tick text').attr('fill', '#333');
      };
      styleAxis(g.append('g').attr('transform', `translate(0,${p.y + p.h})`)
        .call(d3.axisBottom(x).tickValues(p.xt).tickFormat(d3.format(p.xf)).tickSize(3).tickPadding(2).tickSizeOuter(0)));
      styleAxis(g.append('g').attr('transform', `translate(${p.x},0)`)
        .call(d3.axisLeft(y).tickValues(p.yt).tickFormat(d3.format(p.yf)).tickSize(3).tickPadding(2).tickSizeOuter(0)));

      g.append('g').selectAll('circle').data(p.data).enter().append('circle')
        .attr('cx', d => x(d[0])).attr('cy', d => y(d[1])).attr('r', 3.5)
        .attr('fill', '#5f93e4');

      g.append('line')
        .attr('x1', x(dom[0])).attr('y1', y(dom[0])).attr('x2', x(dom[1])).attr('y2', y(dom[1]))
        .attr('stroke', '#000').attr('stroke-width', 1.1).attr('stroke-dasharray', '3.2,1.6');

      const tfs = p.g5 ? 6.1 : 6.7;
      g.append('text').attr('x', p.x + p.w / 2).attr('y', p.y - (p.top ? 2.5 : 5))
        .attr('text-anchor', 'middle').attr('font-family', 'DejaVu Sans').attr('font-size', tfs)
        .attr('fill', '#222').text(titles[i]);

      const sfs = p.g5 ? 6.1 : 7.2;
      const sx = p.x + p.w * 0.095;
      const st = g.append('g').attr('font-family', 'DejaVu Sans').attr('font-size', sfs).attr('fill', '#222');
      st.append('text').attr('x', sx).attr('y', p.y + p.h * 0.095 + sfs * 0.36).text(`RMSE=${rmse[i].toFixed(3)}`);
      st.append('text').attr('x', sx).attr('y', p.y + p.h * 0.195 + sfs * 0.36).text(`NRMSE=${nrmse[i].toFixed(3)}`);
      const rt = st.append('text').attr('x', sx).attr('y', p.y + p.h * 0.295 + sfs * 0.36);
      rt.append('tspan').attr('font-style', 'italic').text('R');
      rt.append('tspan').attr('font-size', sfs * 0.7).attr('dy', -sfs * 0.4).text('2');
      rt.append('tspan').attr('dy', sfs * 0.4).text(`=${r2[i].toFixed(3)}`);

      if (p.lab) {
        g.append('text').attr('x', p.x + p.w / 2).attr('y', p.y + p.h + (p.g5 ? 18 : 17))
          .attr('text-anchor', 'middle').attr('font-family', 'DejaVu Sans')
          .attr('font-size', p.g5 ? 6.5 : 5.8).attr('fill', '#222').text('True');
        g.append('text')
          .attr('transform', `translate(${p.x - (p.g5 ? 19 : 17)},${p.y + p.h / 2}) rotate(-90)`)
          .attr('text-anchor', 'middle').attr('font-family', 'DejaVu Sans')
          .attr('font-size', p.g5 ? 8.2 : 7.3).attr('fill', '#222').text('Estimated');
      }
    });

    groupCaptions.forEach((c, i) => {
      const t = svg.append('text').attr('x', captionPos[i][0]).attr('y', captionPos[i][1])
        .attr('text-anchor', 'middle').attr('font-family', 'DejaVu Serif').attr('font-size', 15).attr('fill', '#111');
      t.append('tspan').attr('font-weight', 'bold').text(c);
      t.append('tspan').text(' group.');
    });
  }, []);

  return <svg ref={ref} width={685} height={1158} style={{ position: 'absolute', left: 0, top: 0, background: '#fff' }} />;
};

export default App;
